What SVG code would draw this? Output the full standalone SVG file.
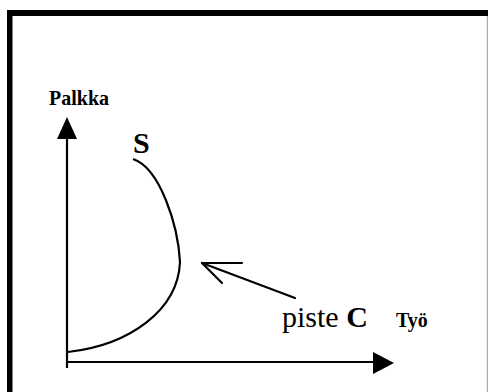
<svg xmlns="http://www.w3.org/2000/svg" width="488" height="392" viewBox="0 0 488 392">
<style>
.ax{stroke:#000;stroke-width:2.2;fill:none}
.head{fill:#000}
.t{font-family:"Liberation Serif","Times New Roman",serif;fill:#000}
.b{font-weight:bold}
</style>
<rect width="488" height="392" fill="#fff"/>
<g id="frame">
<rect x="7" y="10" width="481" height="6" fill="#000"/>
<rect x="7" y="10" width="5.5" height="382" fill="#000"/>
<line x1="487.3" y1="16" x2="487.3" y2="392" stroke="#999" stroke-width="1"/>
</g>
<g id="connectors">
<line class="ax" x1="67" y1="136" x2="67" y2="368"/>
<polygon class="head" points="67,117 57,139 77,139"/>
<line class="ax" x1="67" y1="362" x2="375" y2="362"/>
<polygon class="head" points="394,363 373,352 373,374"/>
<path class="ax" d="M133,159 C160,168 178,225 180,262 C178,310 130,345 68,352"/>
<g id="pointer" class="ax" stroke-width="2.6" stroke-linecap="round">
<line x1="295" y1="298" x2="202" y2="263"/>
<line x1="202" y1="263" x2="242" y2="263"/>
<line x1="202" y1="263" x2="222" y2="283"/>
</g>
</g>
<g id="label-palkka"><text class="t b" x="49" y="105" font-size="21" textLength="60" lengthAdjust="spacingAndGlyphs">Palkka</text></g>
<g id="label-s"><text class="t b" x="133" y="153" font-size="30">S</text></g>
<g id="label-pisteC"><text class="t" x="282" y="327" font-size="30">piste <tspan class="b">C</tspan></text></g>
<g id="label-tyo"><text class="t b" x="396" y="327" font-size="20">Työ</text></g>
</svg>
